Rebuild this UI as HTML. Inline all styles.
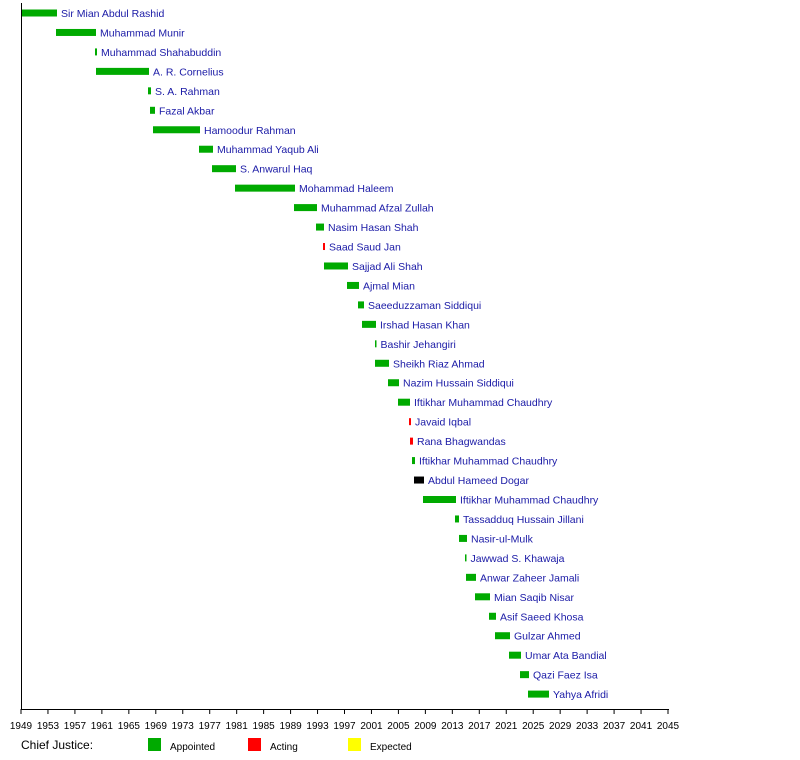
<!DOCTYPE html>
<html><head><meta charset="utf-8"><style>
html,body{margin:0;padding:0;background:#fff;}
svg{display:block;font-family:"Liberation Sans",sans-serif;}
.l{font-size:10.5px;fill:#1a1aa6;}
.t{font-size:10px;fill:#000;text-anchor:middle;}
</style></head><body>
<svg width="800" height="760" xmlns="http://www.w3.org/2000/svg">
<g id="bars"></g>
<line x1="21.5" y1="3" x2="21.5" y2="709" stroke="#000"/>
<line x1="21" y1="709.5" x2="669" y2="709.5" stroke="#000"/>
<g id="ticks"></g>
<text x="21" y="749" style="font-size:12px">Chief Justice:</text>
<rect x="148" y="738" width="13" height="13" fill="#00aa00"/><text x="170" y="750" style="font-size:10px">Appointed</text>
<rect x="248" y="738" width="13" height="13" fill="#ff0000"/><text x="270" y="750" style="font-size:10px">Acting</text>
<rect x="348" y="738" width="13" height="13" fill="#ffff00"/><text x="370" y="750" style="font-size:10px">Expected</text>
</svg>
<script>
var d=[[22,57,"Sir Mian Abdul Rashid","g"],[56,96,"Muhammad Munir","g"],[95,97,"Muhammad Shahabuddin","g"],[96,149,"A. R. Cornelius","g"],[148,151,"S. A. Rahman","g"],[150,155,"Fazal Akbar","g"],[153,200,"Hamoodur Rahman","g"],[199,213,"Muhammad Yaqub Ali","g"],[212,236,"S. Anwarul Haq","g"],[235,295,"Mohammad Haleem","g"],[294,317,"Muhammad Afzal Zullah","g"],[316,324,"Nasim Hasan Shah","g"],[323,325,"Saad Saud Jan","r"],[324,348,"Sajjad Ali Shah","g"],[347,359,"Ajmal Mian","g"],[358,364,"Saeeduzzaman Siddiqui","g"],[362,376,"Irshad Hasan Khan","g"],[375,376,"Bashir Jehangiri","g"],[375,389,"Sheikh Riaz Ahmad","g"],[388,399,"Nazim Hussain Siddiqui","g"],[398,410,"Iftikhar Muhammad Chaudhry","g"],[409,411,"Javaid Iqbal","r"],[410,413,"Rana Bhagwandas","r"],[412,415,"Iftikhar Muhammad Chaudhry","g"],[414,424,"Abdul Hameed Dogar","k"],[423,456,"Iftikhar Muhammad Chaudhry","g"],[455,459,"Tassadduq Hussain Jillani","g"],[459,467,"Nasir-ul-Mulk","g"],[465,466,"Jawwad S. Khawaja","g"],[466,476,"Anwar Zaheer Jamali","g"],[475,490,"Mian Saqib Nisar","g"],[489,496,"Asif Saeed Khosa","g"],[495,510,"Gulzar Ahmed","g"],[509,521,"Umar Ata Bandial","g"],[520,529,"Qazi Faez Isa","g"],[528,549,"Yahya Afridi","g"]];
var c={g:"#00aa00",r:"#ff0000",k:"#000"},s="";
d.forEach(function(b,i){var y=13+i*19.46;var w=Math.max(b[1]-b[0],1.5);
s+='<rect x="'+b[0]+'" y="'+(y-3.5)+'" width="'+w+'" height="7" fill="'+c[b[3]]+'"/>';
s+='<text class="l" x="'+(b[0]+w+4)+'" y="'+(y+4)+'">'+b[2]+'</text>';});
document.getElementById("bars").innerHTML=s;
var t="";for(var k=0;k<=24;k++){var x=21+k*4*647/96;t+='<line x1="'+x+'" y1="709" x2="'+x+'" y2="714" stroke="#000"/><text class="t" x="'+x+'" y="729">'+(1949+4*k)+'</text>';}
document.getElementById("ticks").innerHTML=t;
</script>
</body></html>
